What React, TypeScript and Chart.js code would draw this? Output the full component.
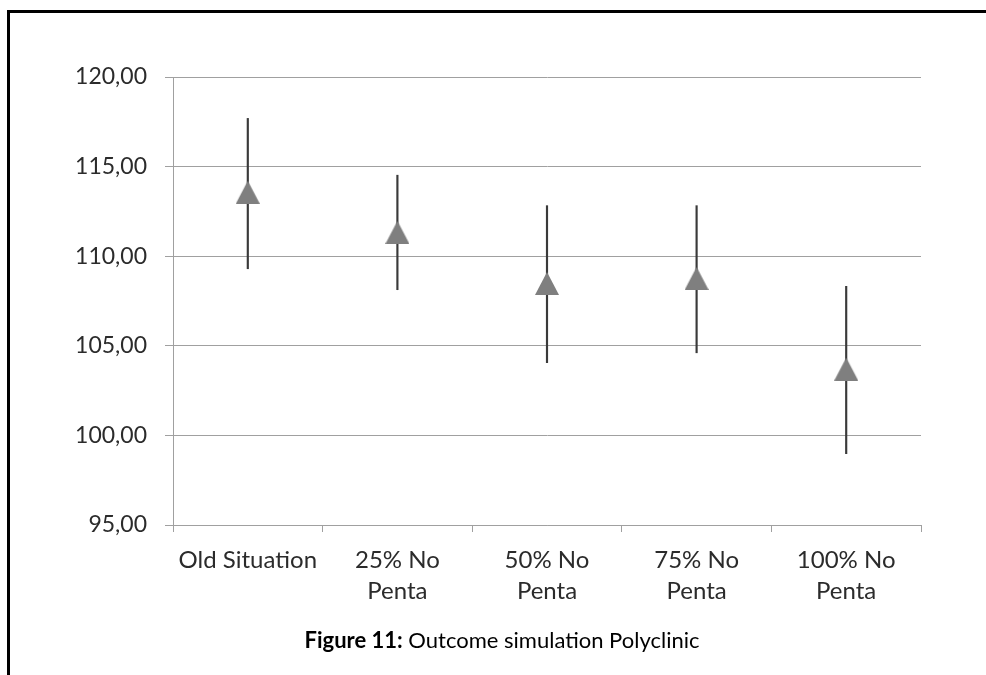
import React, { useEffect, useRef } from "react";
import { Chart, registerables } from "chart.js";

Chart.register(...registerables);

const categories: (string | string[])[] = [
  "Old Situation",
  ["25% No", "Penta"],
  ["50% No", "Penta"],
  ["75% No", "Penta"],
  ["100% No", "Penta"],
];
const meanValues = [113.57, 111.33, 108.48, 108.76, 103.7];
const lowValues = [109.3, 108.13, 104.06, 104.61, 98.98];
const highValues = [117.69, 114.52, 112.82, 112.82, 108.32];
const yTicks = [95, 100, 105, 110, 115, 120];

const FONT = "Lato, 'Open Sans', sans-serif";

function makeTriangle(): HTMLCanvasElement {
  const c = document.createElement("canvas");
  const w = 24;
  const h = 23;
  c.width = w;
  c.height = h;
  const ctx = c.getContext("2d")!;
  ctx.fillStyle = "#7f7f7f";
  ctx.beginPath();
  ctx.moveTo(w / 2, 0);
  ctx.lineTo(w, h);
  ctx.lineTo(0, h);
  ctx.closePath();
  ctx.fill();
  return c;
}

export default function App() {
  const ref = useRef<HTMLCanvasElement>(null);

  useEffect(() => {
    if (!ref.current) return;
    const tri = makeTriangle();
    const chart = new Chart(ref.current, {
      type: "bar",
      data: {
        labels: categories,
        datasets: [
          {
            type: "bar",
            data: lowValues.map((lo, i) => [lo, highValues[i]]) as any,
            backgroundColor: "#3a3a3a",
            barThickness: 1.5,
            order: 2,
          },
          {
            type: "line",
            data: meanValues,
            showLine: false,
            pointStyle: tri as any,
            pointRadius: 12,
            order: 1,
          } as any,
        ],
      },
      options: {
        animation: false,
        responsive: false,
        devicePixelRatio: 1,
        layout: { padding: { top: 77, right: 65, left: 0, bottom: 0 } },
        plugins: {
          legend: { display: false },
          tooltip: { enabled: false },
          title: { display: false },
        },
        scales: {
          x: {
            offset: true,
            grid: {
              display: true,
              offset: true,
              drawOnChartArea: false,
              drawTicks: true,
              tickLength: 7,
              color: "#a0a0a0",
            },
            border: { display: true, color: "#a0a0a0" },
            ticks: {
              color: "#2b2b2b",
              font: { family: FONT, size: 24, lineHeight: 1.32 },
              padding: 12,
              maxRotation: 0,
              autoSkip: false,
            },
            afterFit: (s: any) => {
              s.height = 150;
            },
          },
          y: {
            min: 95,
            max: 120,
            afterBuildTicks: (s: any) => {
              s.ticks = yTicks.map((v) => ({ value: v }));
            },
            grid: {
              color: "#a0a0a0",
              tickLength: 8,
            },
            border: { display: true, color: "#a0a0a0" },
            ticks: {
              color: "#2b2b2b",
              font: { family: FONT, size: 23 },
              padding: 18,
              callback: (v: any) => Number(v).toFixed(2).replace(".", ","),
            },
            afterFit: (s: any) => {
              s.width = 173;
            },
          },
        },
      },
    });
    return () => chart.destroy();
  }, []);

  return (
    <div style={{ position: "fixed", left: 0, top: 0, width: 986, height: 675, background: "#fff", overflow: "hidden" }}>
      <div
        style={{
          position: "absolute",
          left: 7,
          top: 10,
          width: 1100,
          height: 800,
          border: "3px solid #000",
          boxSizing: "border-box",
        }}
      />
      <canvas ref={ref} width={986} height={675} style={{ position: "absolute", left: 0, top: 0 }} />
      <div
        style={{
          position: "absolute",
          left: 0,
          width: 1004,
          top: 626,
          textAlign: "center",
          fontFamily: FONT,
          fontSize: 22,
          color: "#000",
          lineHeight: "28px",
        }}
      >
        <b>Figure 11:</b> Outcome simulation Polyclinic
      </div>
    </div>
  );
}
